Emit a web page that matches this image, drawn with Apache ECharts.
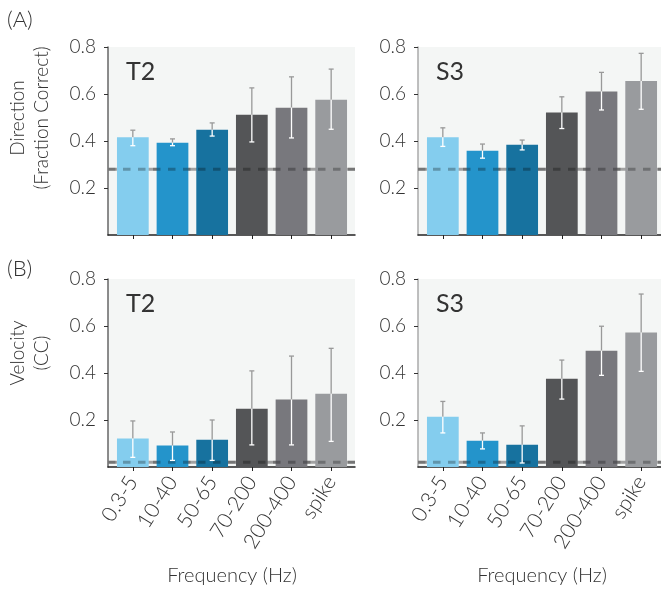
<!DOCTYPE html>
<html>
<head>
<meta charset="utf-8">
<script src="https://cdn.jsdelivr.net/npm/echarts@6/dist/echarts.min.js"></script>
<style>
  html, body { margin: 0; padding: 0; background: #fff; }
  #chart { width: 661px; height: 590px; }
</style>
</head>
<body>
<div id="chart"></div>
<script>
const categories = ['0.3-5', '10-40', '50-65', '70-200', '200-400', 'spike']

// (A) direction, fraction correct
const dirT2 = [0.416, 0.393, 0.448, 0.512, 0.542, 0.576]
const dirT2Low = [0.380, 0.380, 0.421, 0.396, 0.413, 0.450]
const dirT2High = [0.446, 0.409, 0.477, 0.626, 0.673, 0.706]
const dirS3 = [0.416, 0.359, 0.384, 0.521, 0.611, 0.655]
const dirS3Low = [0.377, 0.327, 0.362, 0.453, 0.532, 0.535]
const dirS3High = [0.456, 0.387, 0.404, 0.588, 0.692, 0.773]
const dirChance = 0.28

// (B) velocity, CC
const velT2 = [0.121, 0.091, 0.116, 0.248, 0.287, 0.312]
const velT2Low = [0.041, 0.028, 0.028, 0.094, 0.094, 0.109]
const velT2High = [0.196, 0.149, 0.200, 0.409, 0.472, 0.505]
const velS3 = [0.214, 0.112, 0.095, 0.376, 0.495, 0.572]
const velS3Low = [0.145, 0.077, 0.017, 0.289, 0.390, 0.407]
const velS3High = [0.279, 0.145, 0.175, 0.455, 0.599, 0.736]
const velChance = 0.02

const yMin = 0
const yMax = 0.8
const yStep = 0.2

const barColors = ['#84cdee', '#2494cb', '#17729f', '#545557', '#78787d', '#999b9e']
const font = 'Lato, "Open Sans", sans-serif'
const textColor = '#333'

const chart = echarts.init(document.getElementById('chart'))

const grid = []
const xAxis = []
const yAxis = []
const series = []
const title = []

// each panel: background grid (axis lines, y labels, chance line) + data grid (bars)
const addPanel = ({ name, bgLeft, bgWidth, dataLeft, top, values, low, high, chance, axisColor, showLabels }) => {
  const bg = grid.length
  grid.push({
    left: bgLeft, top, width: bgWidth, height: 188,
    show: true, backgroundColor: '#f4f6f5', borderWidth: 0,
  })
  xAxis.push({
    gridIndex: bg, type: 'value', min: 0, max: 1,
    axisLine: { show: true, lineStyle: { color: '#222', width: 1.5 } },
    axisTick: { show: false }, axisLabel: { show: false }, splitLine: { show: false },
  })
  yAxis.push({
    gridIndex: bg, type: 'value', min: yMin, max: yMax, interval: yStep,
    axisLine: { show: true, lineStyle: { color: axisColor, width: 1.5 } },
    axisTick: { show: true, length: 4, lineStyle: { color: '#333' } },
    axisLabel: {
      margin: 12, fontSize: 19, color: textColor, fontFamily: font, fontWeight: 300,
      showMinLabel: false,
      formatter: (v) => (v === 0 ? '' : v.toFixed(1)),
    },
    splitLine: { show: false },
  })

  const dg = grid.length
  grid.push({ left: dataLeft, top, width: 238, height: 188 })
  xAxis.push({
    gridIndex: dg, type: 'category', data: categories,
    axisLine: { show: false },
    axisTick: { show: true, alignWithLabel: true, length: 4, lineStyle: { color: '#222' } },
    axisLabel: {
      show: showLabels, interval: 0, rotate: 58, margin: 11, padding: [8, 0, 0, 0],
      fontSize: 21, color: textColor, fontFamily: font, fontWeight: 300,
    },
    name: showLabels ? 'Frequency (Hz)' : '',
    nameLocation: 'middle',
    nameGap: 99,
    nameTextStyle: { fontSize: 20, color: textColor, fontFamily: font, fontWeight: 300 },
  })
  yAxis.push({ gridIndex: dg, type: 'value', min: yMin, max: yMax, show: false })

  // chance level: solid grey line under bars, translucent dashes over them
  series.push({
    type: 'line', xAxisIndex: bg, yAxisIndex: bg, z: 1,
    symbol: 'none', silent: true,
    data: [[0, chance], [1, chance]],
    lineStyle: { color: '#a2a2a2', width: 3 },
  })
  series.push({
    type: 'bar', xAxisIndex: dg, yAxisIndex: dg, z: 2,
    barWidth: '80%',
    data: values.map((v, i) => ({ value: v, itemStyle: { color: barColors[i] } })),
  })
  series.push({
    type: 'line', xAxisIndex: bg, yAxisIndex: bg, z: 5,
    symbol: 'none', silent: true,
    data: [[0, chance], [1, chance]],
    lineStyle: { color: 'rgba(0,0,0,0.28)', width: 3, type: [7.5, 7.5], dashOffset: 0 },
  })
  series.push({
    type: 'custom', xAxisIndex: dg, yAxisIndex: dg, z: 6,
    data: values.map((v, i) => [i, v, low[i], high[i]]),
    renderItem: (params, api) => {
      const m = api.coord([api.value(0), api.value(1)])
      const lo = api.coord([api.value(0), api.value(2)])
      const hi = api.coord([api.value(0), api.value(3)])
      const cap = 2.5
      const grey = { stroke: '#999', lineWidth: 1.3 }
      const white = { stroke: '#fff', lineWidth: 1.3 }
      return {
        type: 'group',
        children: [
          { type: 'line', shape: { x1: hi[0], y1: hi[1], x2: m[0], y2: m[1] }, style: grey },
          { type: 'line', shape: { x1: hi[0] - cap, y1: hi[1], x2: hi[0] + cap, y2: hi[1] }, style: grey },
          { type: 'line', shape: { x1: m[0], y1: m[1], x2: lo[0], y2: lo[1] }, style: white },
          { type: 'line', shape: { x1: lo[0] - cap, y1: lo[1], x2: lo[0] + cap, y2: lo[1] }, style: white },
        ],
      }
    },
  })

  title.push({
    text: name,
    left: dataLeft + 8,
    top: top + 7,
    textStyle: { fontSize: 25, color: textColor, fontFamily: font, fontWeight: 400 },
  })
}

addPanel({ name: 'T2', bgLeft: 108, bgWidth: 247, dataLeft: 113, top: 47,
  values: dirT2, low: dirT2Low, high: dirT2High, chance: dirChance, axisColor: '#666', showLabels: false })
addPanel({ name: 'S3', bgLeft: 418, bgWidth: 243, dataLeft: 423, top: 47,
  values: dirS3, low: dirS3Low, high: dirS3High, chance: dirChance, axisColor: '#aaa', showLabels: false })
addPanel({ name: 'T2', bgLeft: 108, bgWidth: 247, dataLeft: 113, top: 279,
  values: velT2, low: velT2Low, high: velT2High, chance: velChance, axisColor: '#666', showLabels: true })
addPanel({ name: 'S3', bgLeft: 418, bgWidth: 243, dataLeft: 423, top: 279,
  values: velS3, low: velS3Low, high: velS3High, chance: velChance, axisColor: '#aaa', showLabels: true })

const sideText = (text, x, y) => ({
  type: 'text', x, y, rotation: Math.PI / 2,
  style: {
    text, fontSize: 19, lineHeight: 24, fill: textColor, fontFamily: font, fontWeight: 300,
    align: 'center', verticalAlign: 'middle',
  },
})

chart.setOption({
  animation: false,
  title,
  grid,
  xAxis,
  yAxis,
  series,
  graphic: [
    { type: 'text', left: 7, top: 9, style: { text: '(A)', fontSize: 22, fill: textColor, fontFamily: font, fontWeight: 300 } },
    { type: 'text', left: 7, top: 258, style: { text: '(B)', fontSize: 22, fill: textColor, fontFamily: font, fontWeight: 300 } },
    sideText('Direction\n(Fraction Correct)', 30, 118),
    sideText('Velocity\n(CC)', 30, 353),
  ],
})
</script>
</body>
</html>
